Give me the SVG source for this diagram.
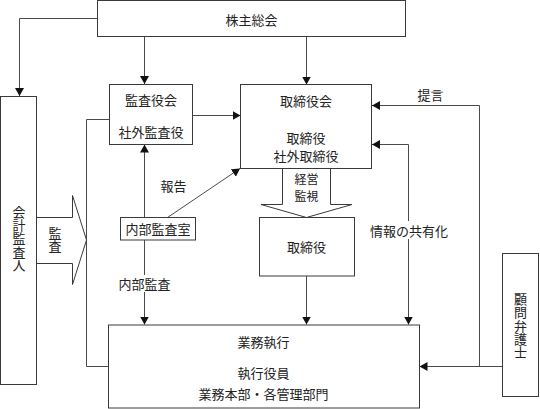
<svg xmlns="http://www.w3.org/2000/svg" width="540" height="409" viewBox="0 0 540 409">
<style>
.box{fill:#fff;stroke:#3a3a3a;stroke-width:1}
.ln{fill:none;stroke:#4a4a4a;stroke-width:1}
.t{font-family:"Noto Sans CJK JP","Liberation Serif",sans-serif;font-size:13px;fill:#222;text-anchor:middle;dominant-baseline:central}
.v{writing-mode:vertical-rl;letter-spacing:0.3px}
.s{font-size:12px}
.bg{fill:#fff;stroke:none}
</style>
<defs>
<marker id="ah" viewBox="0 0 8 9" refX="8" refY="4.5" markerWidth="8" markerHeight="9" markerUnits="userSpaceOnUse" orient="auto-start-reverse">
<path d="M0,0 L8,4.5 L0,9 z" fill="#111"/>
</marker>
</defs>
<rect width="540" height="409" fill="#fff"/>

<g id="connectors">
<path class="ln" d="M97,18.5 H19.5 V96" marker-end="url(#ah)"/>
<path class="ln" d="M144.5,36 V84" marker-end="url(#ah)"/>
<path class="ln" d="M306.5,36 V84.5" marker-end="url(#ah)"/>
<path class="ln" d="M192.5,115.5 H240.5" marker-end="url(#ah)"/>
<path class="ln" d="M144.5,217.5 V144.5" marker-end="url(#ah)"/>
<path class="ln" d="M167.5,217.5 L240,168.5" marker-end="url(#ah)"/>
<path class="ln" d="M144.5,240 V324.5" marker-end="url(#ah)"/>
<path class="ln" d="M306.5,276 V324.5" marker-end="url(#ah)"/>
<path class="ln" d="M372,144.5 H408.5 V324.5" marker-start="url(#ah)" marker-end="url(#ah)"/>
<path class="ln" d="M479.5,366.5 V105.5 H372" marker-end="url(#ah)"/>
<path class="ln" d="M502.5,366.5 H419.5" marker-end="url(#ah)"/>
<path class="ln" d="M109,119.5 H86.5 V366.5 H108.5"/>
<polygon class="box" points="36.5,217.5 72.5,217.5 72.5,195.5 86.5,240 72.5,284.5 72.5,263.5 36.5,263.5"/>
<polygon class="box" points="282.5,168.5 282.5,204.5 261,204.5 306.5,217.5 352,204.5 330.5,204.5 330.5,168.5"/>
<rect class="bg" x="116" y="275" width="57" height="17"/>
<text class="t" x="144.5" y="283.5">内部監査</text>
<rect class="bg" x="370" y="221" width="78" height="18"/>
<text class="t" x="409" y="230">情報の共有化</text>
<text class="t" x="430.5" y="94">提言</text>
<text class="t" x="173.5" y="185">報告</text>
<text class="t v" x="55" y="240">監査</text>
<text class="t s" x="306.5" y="178">経営</text>
<text class="t s" x="306.5" y="195.5">監視</text>
</g>

<g id="kabunushi">
<rect class="box" x="97.5" y="0.5" width="308" height="36"/>
<text class="t" x="251.5" y="19">株主総会</text>
</g>

<g id="kaikei">
<rect class="box" x="0.5" y="96.5" width="36" height="288"/>
<text class="t v" x="19" y="238.6">会計監査人</text>
</g>

<g id="kansayakukai">
<rect class="box" x="109.5" y="84.5" width="83" height="60"/>
<text class="t" x="151" y="99">監査役会</text>
<text class="t" x="151" y="131.5">社外監査役</text>
</g>

<g id="torishimariyakukai">
<rect class="box" x="240.5" y="84.5" width="131" height="84"/>
<text class="t" x="306" y="100">取締役会</text>
<text class="t" x="306" y="137.5">取締役</text>
<text class="t" x="306" y="155">社外取締役</text>
</g>

<g id="naibu">
<rect class="box" x="120.5" y="217.5" width="75" height="22.5"/>
<text class="t" x="158" y="228.5">内部監査室</text>
</g>

<g id="torishimariyaku">
<rect class="box" x="259.5" y="217.5" width="95" height="58.5"/>
<text class="t" x="306.5" y="246.5">取締役</text>
</g>

<g id="gyomu">
<rect class="box" x="108.5" y="325" width="311" height="83"/>
<text class="t" x="263.5" y="341">業務執行</text>
<text class="t" x="263.5" y="372.5">執行役員</text>
<text class="t" x="263.5" y="393">業務本部・各管理部門</text>
</g>

<g id="komon">
<rect class="box" x="502.5" y="253.5" width="36" height="143"/>
<text class="t v" x="520.5" y="326">顧問弁護士</text>
</g>
</svg>
